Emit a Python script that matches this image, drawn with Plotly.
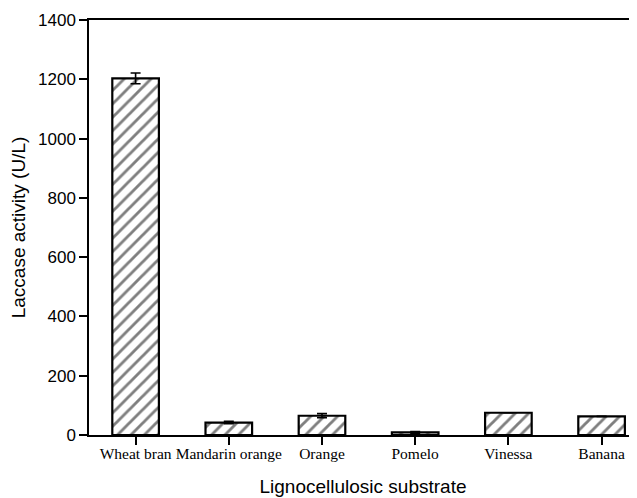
import plotly.graph_objects as go

categories = ["Wheat bran", "Mandarin orange", "Orange", "Pomelo", "Vinessa", "Banana"]
activity = [1203, 42, 65, 9, 75, 63]
errors = [18, 4, 7, 3, 0, 0]
y_ticks = [0, 200, 400, 600, 800, 1000, 1200, 1400]

positions = list(range(len(categories)))

fig = go.Figure()
fig.add_trace(go.Bar(
    x=positions,
    y=activity,
    width=0.5,
    marker=dict(
        color="white",
        line=dict(color="black", width=2.2),
        pattern=dict(shape="/", fgcolor="black", bgcolor="white", size=9.5, solidity=0.3),
    ),
    error_y=dict(type="data", array=errors, visible=True, color="black", thickness=1.6, width=5),
))

# page body has an 8px default margin; size the figure so it fills the 637x498 window
fig.update_layout(
    width=629, height=490,
    margin=dict(l=81, r=0, t=12, b=63),
    plot_bgcolor="white", paper_bgcolor="white",
    showlegend=False,
    font=dict(family="Liberation Sans, Arial", color="black"),
)
fig.update_xaxes(
    tickmode="array", tickvals=positions, ticktext=categories,
    range=[-0.5, 5.38],
    showline=True, linecolor="black", linewidth=1.5, mirror=True,
    ticks="outside", ticklen=8, tickwidth=1.5, tickcolor="black",
    ticklabelstandoff=-4,
    tickfont=dict(family="Liberation Serif, Times New Roman", size=15.5),
    showgrid=False, zeroline=False, automargin=False,
    title=dict(text="Lignocellulosic substrate", font=dict(size=19), standoff=18),
)
fig.update_yaxes(
    range=[0, 1400], tickvals=y_ticks,
    showline=True, linecolor="black", linewidth=1.5,
    ticks="outside", ticklen=8, tickwidth=1.5, tickcolor="black",
    tickfont=dict(size=17),
    showgrid=False, zeroline=False, automargin=False,
    title=dict(text="Laccase activity (U/L)", font=dict(size=19), standoff=10),
)

fig.write_html("out.html")
